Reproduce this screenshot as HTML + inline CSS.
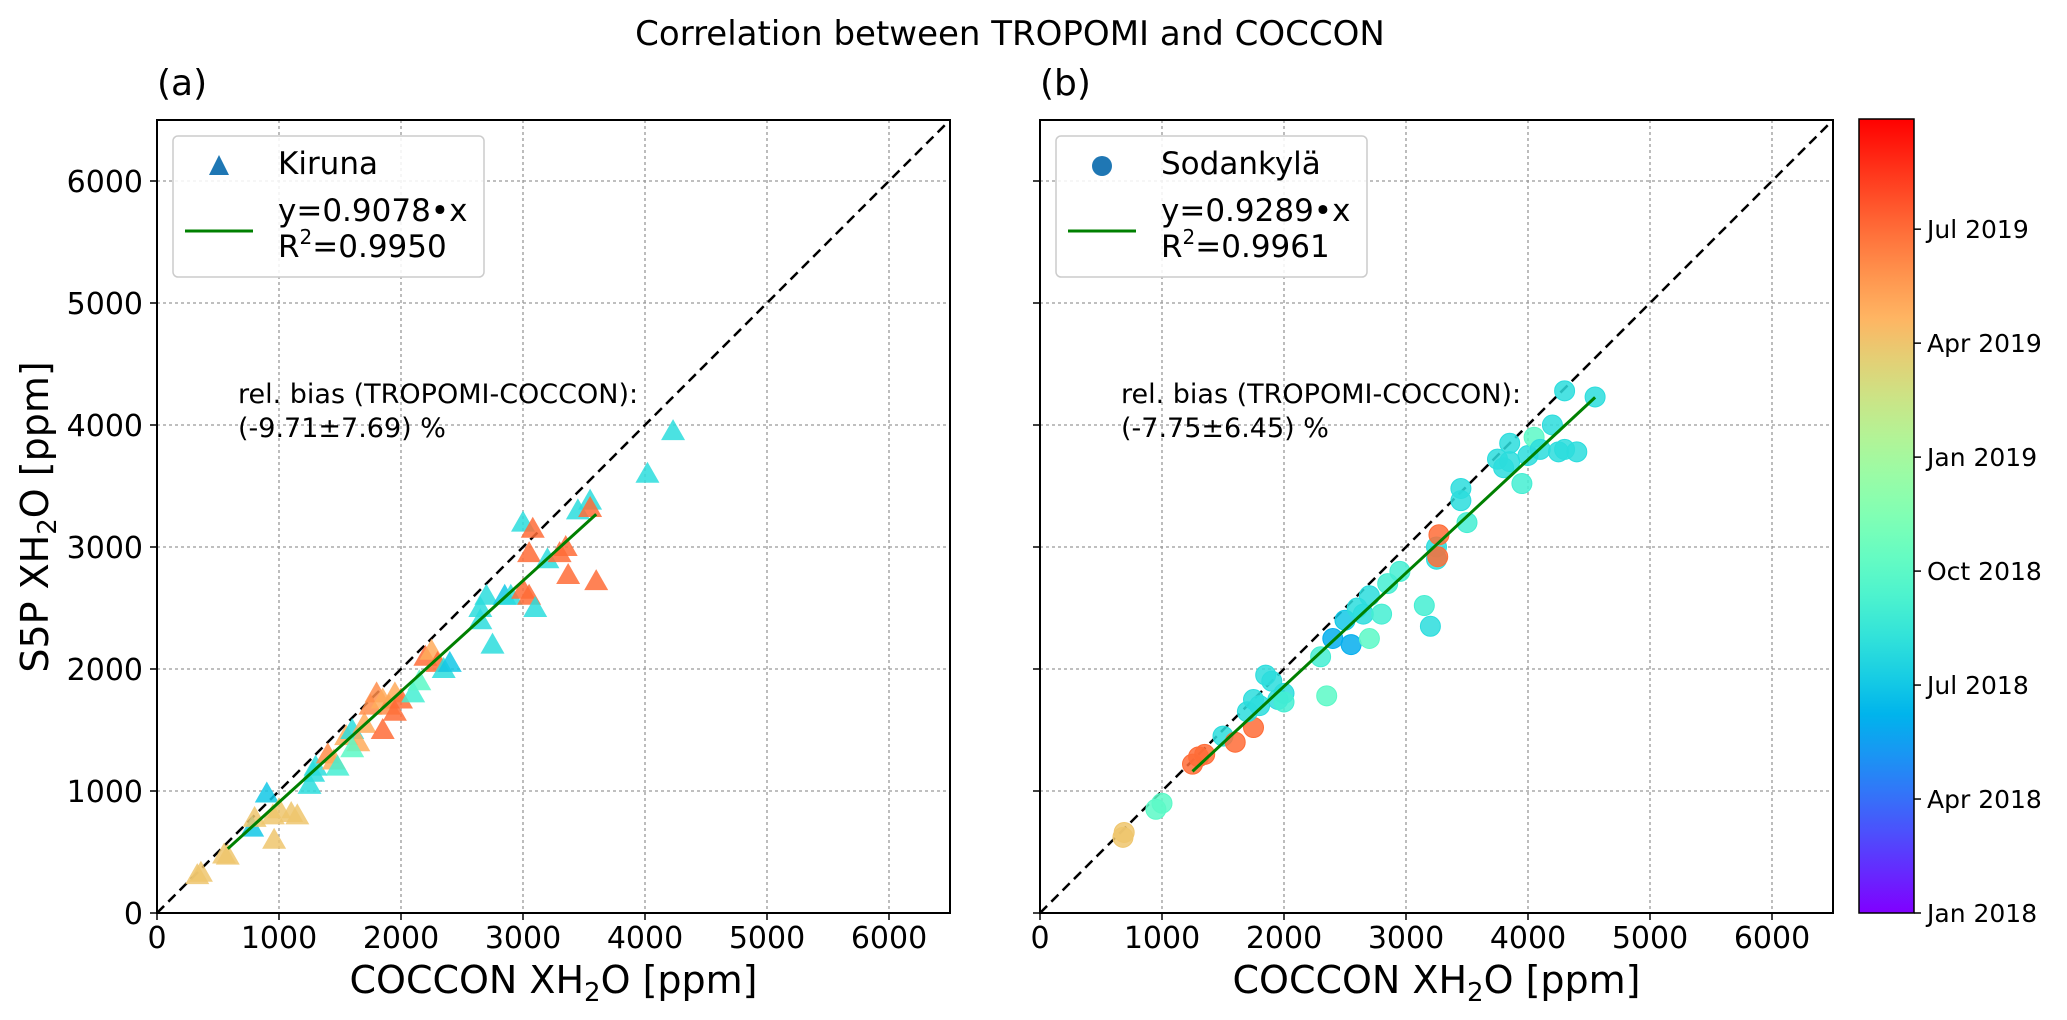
<!DOCTYPE html>
<html><head><meta charset="utf-8"><style>
body{margin:0;background:#fff}
svg{display:block;font-family:"DejaVu Sans","Liberation Sans",sans-serif}
</style></head><body>
<svg id="chart" width="2067" height="1020" viewBox="0 0 2067 1020" xmlns="http://www.w3.org/2000/svg">
<text x="1010" y="45" font-size="34" text-anchor="middle">Correlation between TROPOMI and COCCON</text>
<g id="pa"></g>
<g id="pb"></g>
<g id="cb"></g>
</svg>
<script>
// data: [COCCON, TROPOMI, month index since Jan 2018]
const kirunaX=[330,360,550,580,780,800,900,950,960,1000,1100,1150,1250,1280,1300,1400,1450,1480,1550,1600,1650,1600,1700,1750,1800,1850,1850,1900,1950,2000,1950,2100,2150,2200,2250,2300,2350,2400,2650,2650,2700,2750,2850,2900,3000,3000,3050,3050,3100,3080,3200,3300,3350,3370,3450,3550,3550,3600,4020,4230];
const kirunaY=[310,330,480,470,700,780,980,800,600,850,820,800,1050,1150,1200,1300,1250,1200,1450,1500,1400,1350,1550,1700,1800,1750,1500,1700,1800,1750,1650,1800,1900,2100,2150,2050,2000,2050,2500,2400,2600,2200,2600,2600,2650,3200,2950,2600,2500,3150,2900,2950,3000,2770,3300,3380,3320,2720,3600,3950];
const kirunaT=[15,15,15,15,6,15,6,15,15,15,15,15,7,7,7,17,16,8,16,7,16,9,16,17,17,16,18,17,16,18,18,8,9,18,16,18,7,6,7,7,7,7,6,7,18,7,18,18,7,18,7,18,18,18,7,7,18,18,7,7];
const sodX=[680,690,950,1000,1250,1300,1350,1500,1600,1750,1700,1750,1800,1850,1900,1950,2000,2000,2300,2350,2400,2500,2550,2600,2650,2700,2700,2800,2850,2950,3150,3200,3250,3250,3270,3260,3450,3450,3500,3750,3800,3850,3850,3950,4000,4050,4100,4200,4250,4300,4300,4400,4550];
const sodY=[620,660,850,900,1220,1280,1300,1450,1400,1520,1650,1750,1700,1950,1900,1750,1800,1730,2100,1780,2250,2400,2200,2500,2450,2600,2250,2450,2700,2800,2520,2350,2900,3000,3100,2920,3480,3380,3200,3720,3650,3850,3700,3520,3750,3900,3800,4000,3780,4280,3800,3780,4230];
const sodT=[15,15,9,9,18,18,18,7,18,18,7,7,7,7,7,7,7,8,8,9,5,6,5,7,7,7,9,8,8,8,8,7,7,7,18,18,7,7,8,7,7,7,7,8,7,9,7,7,7,7,7,7,7];
const xTicks=[0,1000,2000,3000,4000,5000,6000];
const cbTickVals=[0,3,6,9,12,15,18];
const cbTickLabels=["Jan 2018","Apr 2018","Jul 2018","Oct 2018","Jan 2019","Apr 2019","Jul 2019"];
const slopes=[0.9078,0.9289];
const fitRanges=[[580,3600],[1250,4550]];
const tMax=20.9;

const NS="http://www.w3.org/2000/svg";
function mk(tag,attrs,parent){const e=document.createElementNS(NS,tag);for(const k in attrs)e.setAttribute(k,attrs[k]);parent.appendChild(e);return e;}
function cmap(v){const x=Math.max(0,Math.min(1,v/tMax));const r=Math.min(1,Math.abs(2*x-0.5)),g=Math.sin(Math.PI*x),b=Math.cos(Math.PI*x/2);return `rgb(${Math.round(r*255)},${Math.round(g*255)},${Math.round(b*255)})`;}
const Y0=913,PX=122/1000;
function sy(v){return Y0-v*PX;}

function panel(g,x0,label,X,Y,T,shape,site,slope,fr,r2,bias,showY){
  const sx=v=>x0+v*PX;
  const right=sx(6500),top=sy(6500);
  xTicks.forEach((t,i)=>{
    const gl=mk('line',{x1:sx(t),x2:sx(t),y1:top,y2:Y0,stroke:'#999','stroke-width':1.3,'stroke-dasharray':'3,3'},g);
    
    const hl=mk('line',{x1:x0,x2:right,y1:sy(t),y2:sy(t),stroke:'#999','stroke-width':1.3,'stroke-dasharray':'3,3'},g);
    
    const tk=mk('line',{x1:sx(t),x2:sx(t),y1:Y0,y2:Y0+7,stroke:'#000','stroke-width':1.5},g);
    
    const tl=mk('text',{x:sx(t),y:948,'font-size':30,'text-anchor':'middle'},g);tl.textContent=t;
    
    const yt=mk('line',{x1:x0-7,x2:x0,y1:sy(t),y2:sy(t),stroke:'#000','stroke-width':1.5},g);
    
    if(showY){const yl=mk('text',{x:x0-14,y:sy(t)+11,'font-size':30,'text-anchor':'end'},g);yl.textContent=t;
      }
  });
  const one=mk('line',{x1:sx(0),y1:sy(0),x2:sx(6500),y2:sy(6500),stroke:'#000','stroke-width':2.5,'stroke-dasharray':'10,6'},g);
  
  X.forEach((xv,i)=>{
    const cx=sx(xv),cy=sy(Y[i]),c=cmap(T[i]);let m;
    if(shape==='tri'){m=mk('polygon',{points:`${cx},${cy-12} ${cx-12},${cy+9} ${cx+12},${cy+9}`,fill:c,'fill-opacity':0.85},g);}
    else{m=mk('circle',{cx:cx,cy:cy,r:10,fill:c,'fill-opacity':0.85,stroke:c,'stroke-width':1},g);}
    
    
  });
  const fl=mk('line',{x1:sx(fr[0]),y1:sy(fr[0]*slope),x2:sx(fr[1]),y2:sy(fr[1]*slope),stroke:'#008000','stroke-width':3},g);
  
  const fr2=mk('rect',{x:x0,y:top,width:right-x0,height:Y0-top,fill:'none',stroke:'#000','stroke-width':2},g);
  
  const pl=mk('text',{x:x0,y:95,'font-size':36},g);pl.textContent=label;
  
  const bt=mk('text',{x:x0+81,y:403,'font-size':27},g);bt.textContent='rel. bias (TROPOMI-COCCON):';
  
  const bt2=mk('text',{x:x0+81,y:437,'font-size':27},g);bt2.textContent=bias;
  
  const lg=mk('g',{},g);
  mk('rect',{x:x0+16,y:136,width:311,height:141,rx:5,fill:'#fff','fill-opacity':0.85,stroke:'#ccc','stroke-width':1.5},lg);
  const lx=x0+62;
  if(shape==='tri')mk('polygon',{points:`${lx},155 ${lx-10},175 ${lx+10},175`,fill:'#1f77b4'},lg);
  else mk('circle',{cx:lx,cy:166,r:10,fill:'#1f77b4'},lg);
  const t1=mk('text',{x:x0+121,y:174,'font-size':31},lg);t1.textContent=site;
  
  mk('line',{x1:x0+28,x2:x0+96,y1:231,y2:231,stroke:'#008000','stroke-width':3},lg);
  const t2=mk('text',{x:x0+121,y:221,'font-size':31},lg);t2.textContent='y='+slope.toFixed(4)+'•x';
  
  const t3=mk('text',{x:x0+121,y:257,'font-size':31},lg);
  t3.innerHTML='R<tspan font-size="20" dy="-13">2</tspan><tspan dy="13">='+r2+'</tspan>';
  
  const xl=mk('text',{x:(x0+right)/2,y:993,'font-size':38,'text-anchor':'middle'},g);
  xl.innerHTML='COCCON XH<tspan font-size="26" dy="8">2</tspan><tspan dy="-8">O [ppm]</tspan>';
  
}
panel(document.getElementById('pa'),157,'(a)',kirunaX,kirunaY,kirunaT,'tri','Kiruna',slopes[0],fitRanges[0],'0.9950','(-9.71±7.69) %',true);
panel(document.getElementById('pb'),1040,'(b)',sodX,sodY,sodT,'circ','Sodankylä',slopes[1],fitRanges[1],'0.9961','(-7.75±6.45) %',false);
const svg=document.getElementById('chart');
const yl=mk('text',{x:0,y:0,'font-size':38,'text-anchor':'middle',transform:'translate(48,517) rotate(-90)'},svg);
yl.innerHTML='S5P XH<tspan font-size="26" dy="8">2</tspan><tspan dy="-8">O [ppm]</tspan>';

const cb=document.getElementById('cb');
const defs=mk('defs',{},cb);
const gr=mk('linearGradient',{id:'cbg',x1:0,y1:1,x2:0,y2:0},defs);
for(let i=0;i<=20;i++){mk('stop',{offset:i/20,'stop-color':cmap(i/20*tMax)},gr);}
const cbTop=119,cbBot=913,cbx=1859,cbw=55;
const cbr=mk('rect',{x:cbx,y:cbTop,width:cbw,height:cbBot-cbTop,fill:'url(#cbg)',stroke:'#000','stroke-width':1.5},cb);

const cy=v=>cbBot-(v/tMax)*(cbBot-cbTop);
cbTickVals.forEach((v,i)=>{
  const tk=mk('line',{x1:cbx+cbw,x2:cbx+cbw+7,y1:cy(v),y2:cy(v),stroke:'#000','stroke-width':1.5},cb);
  
  const tl=mk('text',{x:1927,y:cy(v)+9,'font-size':25},cb);tl.textContent=cbTickLabels[i];
  
});
</script>
</body></html>
